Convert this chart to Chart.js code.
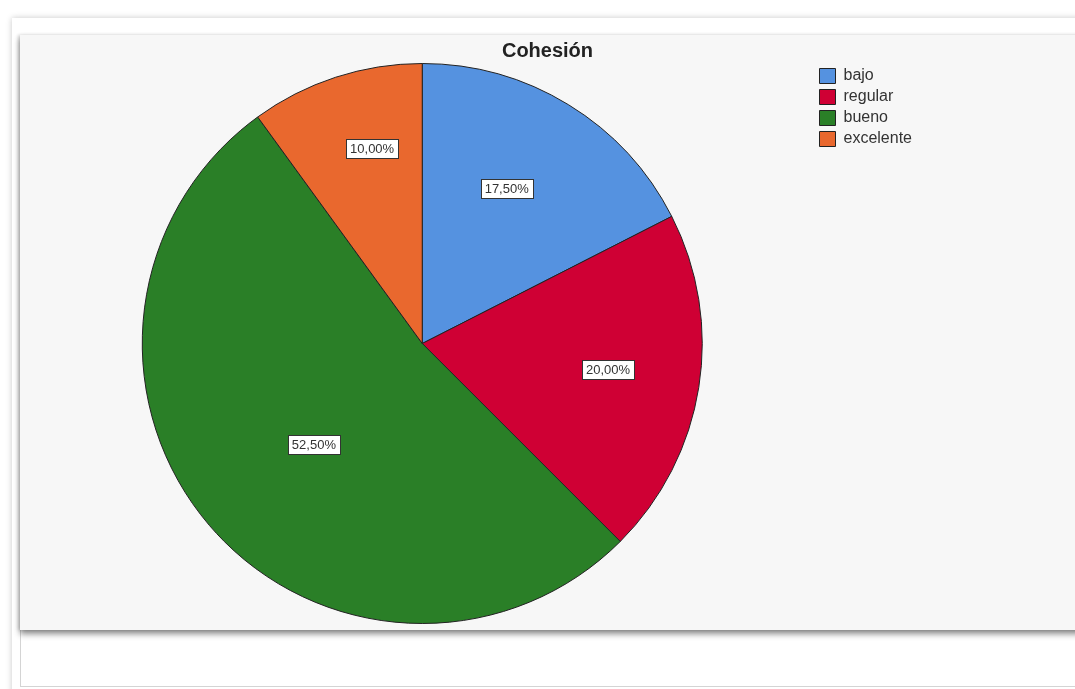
<!DOCTYPE html>
<html>
<head>
<meta charset="utf-8">
<script src="https://cdn.jsdelivr.net/npm/chart.js@4"></script>
<style>
  html, body { margin: 0; padding: 0; background: #fff; }
  body { width: 1075px; height: 689px; position: relative; overflow: hidden; font-family: "Liberation Sans", Arial, sans-serif; }
  .outer { position: absolute; left: 12px; top: 18px; width: 1080px; height: 680px; background: #fff; box-shadow: 0 0 6px rgba(0,0,0,0.22); }
  .frame { position: absolute; left: 20px; top: 35px; width: 1070px; height: 651px; border-left: 1px solid #d4d4d4; border-bottom: 1px solid #d4d4d4; background: #fff; }
  .panel { position: absolute; left: 20px; top: 35px; width: 1070px; height: 595px; background: #f7f7f7; box-shadow: 0 4px 6px rgba(0,0,0,0.45), -2px 0 3px rgba(0,0,0,0.15); }
  .box { position: absolute; left: 0; top: 0; width: 1055px; height: 595px; }
</style>
</head>
<body>
<div class="outer"></div>
<div class="frame"></div>
<div class="panel">
  <div class="box"><canvas id="chart"></canvas></div>
</div>
<script>
"use strict";
const chartTitle = "Cohesión";
const categories = ["bajo", "regular", "bueno", "excelente"];
const percents = [17.5, 20.0, 52.5, 10.0];
const colors = ["#5592e0", "#cf0034", "#2a7f27", "#e9682e"];

// SPSS puts each label at its own spot inside the slice
const labelDistance = [0.63, 0.67, 0.53, 0.72];
const labelTurn = [-2.9, -1.0, -2.6, 3.6]; // degrees

const fmt = (v) => v.toFixed(2).replace(".", ",") + "%";

// title centred over the whole panel, not only the plot area
const panelTitle = {
  id: "panelTitle",
  afterDraw(chart) {
    const ctx = chart.ctx;
    ctx.save();
    ctx.font = "bold 20px 'Liberation Sans', Arial, sans-serif";
    ctx.fillStyle = "#222";
    ctx.textAlign = "center";
    ctx.textBaseline = "middle";
    ctx.fillText(chartTitle, chart.width / 2, 16);
    ctx.restore();
  },
};

const sliceLabels = {
  id: "sliceLabels",
  afterDatasetsDraw(chart) {
    const ctx = chart.ctx;
    const meta = chart.getDatasetMeta(0);
    ctx.save();
    ctx.font = "13px 'Liberation Sans', Arial, sans-serif";
    ctx.textAlign = "center";
    ctx.textBaseline = "middle";
    meta.data.forEach((arc, i) => {
      const p = arc.getProps(["x", "y", "startAngle", "endAngle", "outerRadius"], true);
      const mid = (p.startAngle + p.endAngle) / 2 + (labelTurn[i] * Math.PI) / 180;
      const r = p.outerRadius * labelDistance[i];
      const cx = p.x + Math.cos(mid) * r;
      const cy = p.y + Math.sin(mid) * r;
      const text = fmt(percents[i]);
      const w = Math.round(ctx.measureText(text).width + 8);
      const h = 19;
      const bx = Math.round(cx - w / 2) + 0.5;
      const by = Math.round(cy - h / 2) + 0.5;
      ctx.fillStyle = "#fff";
      ctx.fillRect(bx, by, w, h);
      ctx.strokeStyle = "#333";
      ctx.lineWidth = 1;
      ctx.strokeRect(bx, by, w, h);
      ctx.fillStyle = "#333";
      ctx.fillText(text, cx, cy + 1);
    });
    ctx.restore();
  },
};

new Chart(document.getElementById("chart"), {
  type: "pie",
  data: {
    labels: categories,
    datasets: [
      {
        data: percents,
        backgroundColor: colors,
        borderColor: "#222",
        borderWidth: 1,
      },
    ],
  },
  options: {
    responsive: true,
    maintainAspectRatio: false,
    animation: false,
    events: [],
    layout: { padding: { left: 10, right: 153, top: 28, bottom: 6 } },
    plugins: {
      title: { display: false },
      legend: {
        position: "right",
        align: "start",
        labels: {
          color: "#333",
          font: { family: "'Liberation Sans', Arial, sans-serif", size: 16 },
          boxWidth: 16,
          boxHeight: 15,
          padding: 5,
        },
      },
      tooltip: { enabled: false },
    },
  },
  plugins: [sliceLabels, panelTitle],
});
</script>
</body>
</html>
